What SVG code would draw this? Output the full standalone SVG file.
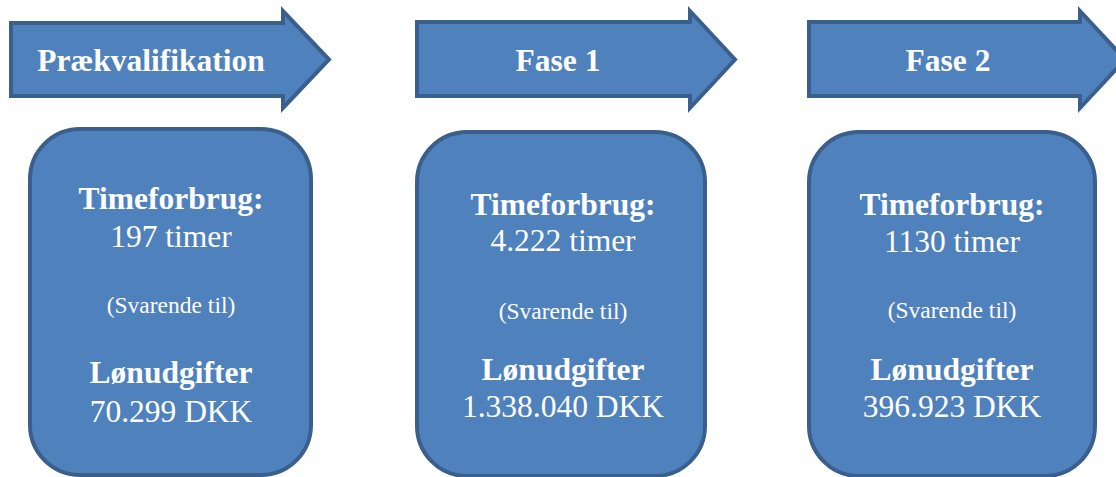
<svg xmlns="http://www.w3.org/2000/svg" width="1116" height="477" viewBox="0 0 1116 477">
  <style>
    .shape { fill: #4f81bd; stroke: #3a5f8d; stroke-width: 4; stroke-linejoin: miter; }
    text { fill: #ffffff; text-anchor: middle; }
    .b { font-weight: bold; font-size: 31.5px; }
    .r { font-size: 31.5px; }
    .s { font-size: 23.5px; }
  </style>
  <rect width="1116" height="477" fill="#ffffff"/>

  <g font-family="'Liberation Serif', 'DejaVu Serif', serif">
  <!-- Phase arrows -->
  <g id="arrow-praekvalifikation">
    <polygon class="shape" points="11,23 283,23 283,11 329,59.5 283,108 283,96 11,96"/>
    <text class="b" x="151" y="71">Prækvalifikation</text>
  </g>
  <g id="arrow-fase1">
    <polygon class="shape" points="417,22 690,22 690,11 735,59.5 690,108 690,96 417,96"/>
    <text class="b" x="558" y="71">Fase 1</text>
  </g>
  <g id="arrow-fase2">
    <polygon class="shape" points="809,22 1080,22 1080,11 1125,59.5 1080,108 1080,96 809,96"/>
    <text class="b" x="948" y="71">Fase 2</text>
  </g>

  <!-- Detail boxes -->
  <g id="box-praekvalifikation">
    <rect class="shape" x="30" y="129" width="281" height="346" rx="50" ry="50"/>
    <text class="b" x="171" y="209">Timeforbrug:</text>
    <text class="r" x="171" y="247">197 timer</text>
    <text class="s" x="171" y="313">(Svarende til)</text>
    <text class="b" x="171" y="383">Lønudgifter</text>
    <text class="r" x="171" y="422">70.299 DKK</text>
  </g>
  <g id="box-fase1">
    <rect class="shape" x="417" y="132" width="288" height="344" rx="50" ry="50"/>
    <text class="b" x="563" y="215">Timeforbrug:</text>
    <text class="r" x="563" y="251">4.222 timer</text>
    <text class="s" x="563" y="319">(Svarende til)</text>
    <text class="b" x="563" y="380">Lønudgifter</text>
    <text class="r" x="563" y="417">1.338.040 DKK</text>
  </g>
  <g id="box-fase2">
    <rect class="shape" x="809" y="132" width="286" height="344" rx="50" ry="50"/>
    <text class="b" x="952" y="215">Timeforbrug:</text>
    <text class="r" x="952" y="252">1130 timer</text>
    <text class="s" x="952" y="318">(Svarende til)</text>
    <text class="b" x="952" y="380">Lønudgifter</text>
    <text class="r" x="952" y="417">396.923 DKK</text>
  </g>
  </g>

  <g id="connectors"></g>
</svg>
